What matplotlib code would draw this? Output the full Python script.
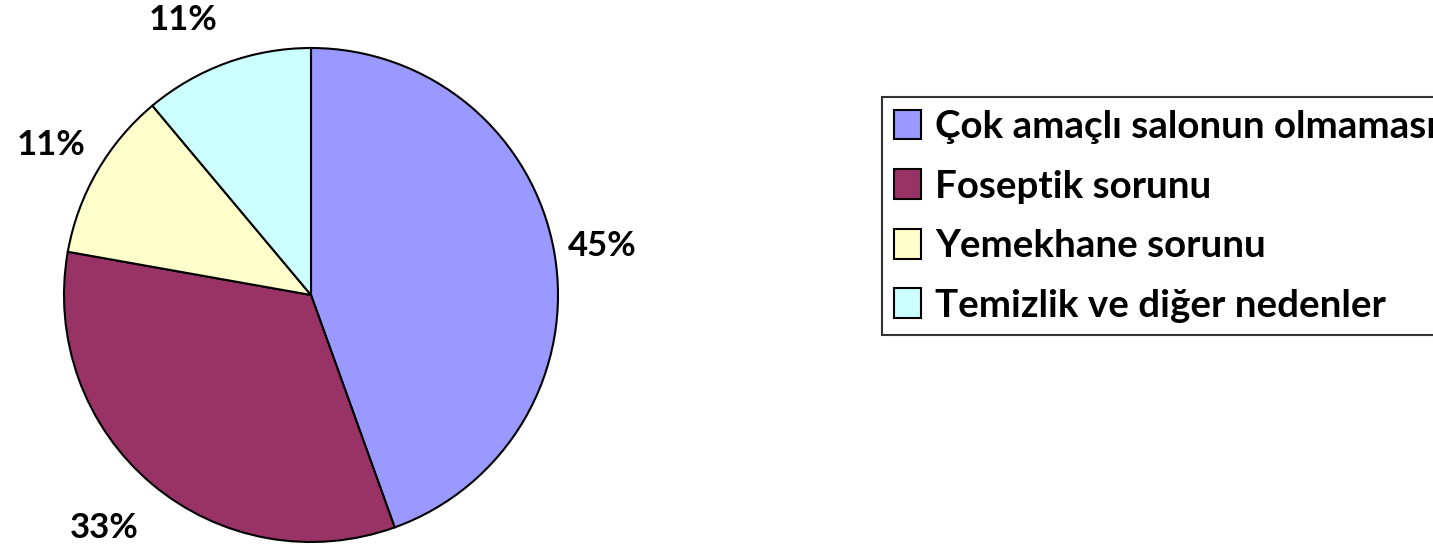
import numpy as np
import matplotlib
matplotlib.use("Agg")
import matplotlib.pyplot as plt

categories = ["Çok amaçlı salonun olmaması", "Foseptik sorunu",
              "Yemekhane sorunu", "Temizlik ve diğer nedenler"]
values = [44.5, 33.3, 11.1, 11.1]
pct_labels = ["45%", "33%", "11%", "11%"]
colors = ["#9999FF", "#993366", "#FFFFCC", "#CCFFFF"]

plt.rcParams['font.family'] = ['Lato', 'DejaVu Sans']

W, H = 1433, 547
fig = plt.figure(figsize=(W / 100, H / 100), dpi=100)
ax = fig.add_axes([0, 0, 1, 1])

cx, cy, R = 311, H - 295, 247
wedges, _ = ax.pie(values, colors=colors, startangle=90, counterclock=False,
                   center=(cx, cy), radius=R,
                   wedgeprops=dict(edgecolor="black", linewidth=1.5))
ax.set_xlim(0, W)
ax.set_ylim(0, H)
ax.set_aspect("equal")
ax.axis("off")

# label placement (distance factor, angle nudge in degrees)
label_dist = [1.195, 1.26, 1.215, 1.23]
label_nudge = [-0.3, -1.5, 0.0, 5.0]
for w, lab, d, nd in zip(wedges, pct_labels, label_dist, label_nudge):
    ang = np.deg2rad((w.theta1 + w.theta2) / 2 + nd)
    ax.text(cx + d * R * np.cos(ang), cy + d * R * np.sin(ang), lab,
            ha="center", va="center", fontsize=25, fontweight="bold")

leg = fig.legend(wedges, categories, loc="lower left",
                 bbox_to_anchor=(882 / W, (H - 335) / H),
                 prop=dict(size=27.7, weight="bold"),
                 fancybox=False, frameon=True, edgecolor="black",
                 handlelength=0.70, handleheight=0.81, handletextpad=0.37,
                 borderpad=0.32, labelspacing=0.66, borderaxespad=0)
leg.get_frame().set_linewidth(1.5)

fig.savefig("out.png", dpi=100)
